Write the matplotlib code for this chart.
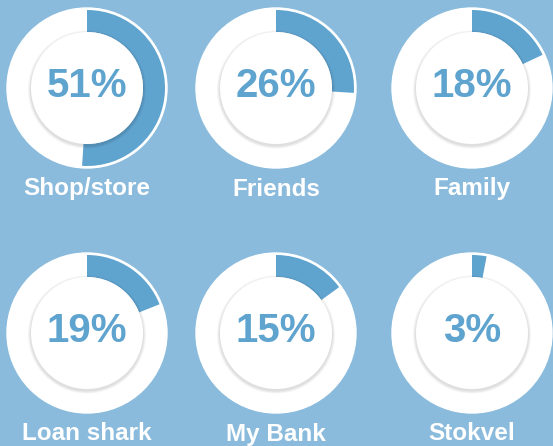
import matplotlib
matplotlib.use("Agg")
import matplotlib.pyplot as plt
from matplotlib.patches import Circle, Wedge

plt.rcParams['font.family'] = ['Liberation Sans', 'DejaVu Sans']

labels = ['Shop/store', 'Friends', 'Family', 'Loan shark', 'My Bank', 'Stokvel']
values = [51, 26, 18, 19, 15, 3]

bg = '#8abbdc'
arc_color = '#5fa3cf'

fig = plt.figure(figsize=(5.53, 4.46), dpi=100, facecolor=bg)
ax = fig.add_axes([0, 0, 1, 1])
ax.set_facecolor(bg)
ax.set_xlim(0, 553)
ax.set_ylim(446, 0)
ax.set_aspect('equal')
ax.axis('off')

col_x = [87, 276, 472]
row_y = [88, 333]
r_outer = 80
r_arc = 78
r_inner = 56

for i, (lab, val) in enumerate(zip(labels, values)):
    cx = col_x[i % 3]
    cy = row_y[i // 3]
    ax.add_patch(Circle((cx, cy), r_outer, color='white', zorder=1))
    # y axis is inverted, so clockwise on screen is counter-clockwise in data
    ax.add_patch(Wedge((cx, cy), r_arc, -90, -90 + 360 * val / 100,
                       width=r_arc - r_inner, color=arc_color, zorder=2, lw=0))
    # soft shadow under the inner disc
    for k, a in enumerate([0.04, 0.04, 0.05]):
        ax.add_patch(Circle((cx, cy + 1.5), r_inner + 3 - k, color='black',
                            alpha=a, zorder=3, lw=0))
    ax.add_patch(Circle((cx, cy), r_inner, color='white', zorder=4, lw=0))
    ax.text(cx, cy - 2, f'{val}%', ha='center', va='center', fontsize=29,
            fontweight='bold', color=arc_color, zorder=5)
    ax.text(cx, cy + 101, lab, ha='center', va='center', fontsize=17.5,
            fontweight='bold', color='white', zorder=5)

fig.savefig('out.png', dpi=100, facecolor=bg)
